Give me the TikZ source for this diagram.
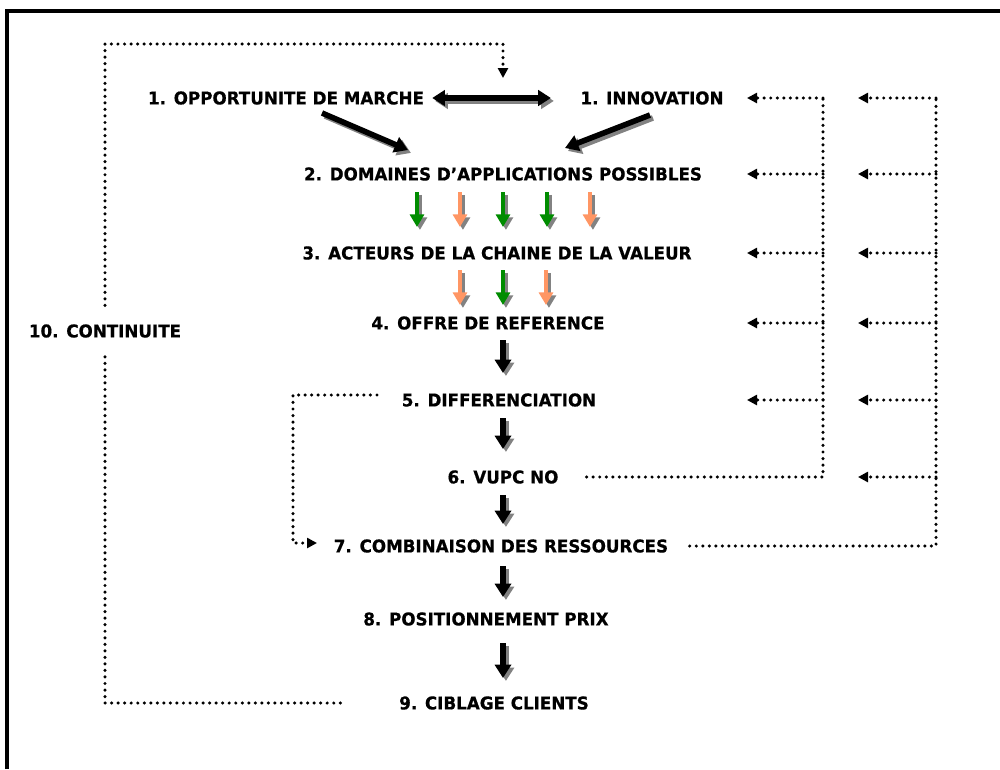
\documentclass[tikz,border=0pt]{standalone}
\usepackage{fontspec}
\setmainfont{DejaVu Sans}[FakeStretch=0.95, BoldFeatures={FakeBold=0.6}]
\usetikzlibrary{arrows.meta,calc}

\definecolor{stepgreen}{RGB}{0,140,0}
\definecolor{steporange}{RGB}{255,150,100}
\definecolor{shadowgray}{RGB}{130,130,130}

\tikzset{
  lbl/.style={font=\bfseries\fontsize{13.2}{15}\selectfont, inner sep=0pt, anchor=center},
  fat/.style={line width=4.2pt, -{Triangle[width=12pt,length=10pt]}},
  thin/.style={line width=3.3pt, -{Triangle[width=10.5pt,length=9.5pt]}},
  fatboth/.style={line width=4pt, {Triangle[width=11.5pt,length=9.5pt]}-{Triangle[width=11.5pt,length=9.5pt]}},
  dots/.style={line width=2.6pt, line cap=round, dash pattern=on 0pt off 4.9pt},
  dottip/.style={dots, -{Triangle[width=7.5pt,length=7.5pt]}},
  shade/.style={shadowgray, transform canvas={shift={(2.2pt,-2.2pt)}}},
  frame/.style={line width=2.3pt}
}

% arrow with a grey drop shadow: style, colour, start, end
\newcommand\shadedarrow[4]{%
  \draw[#1,shade] #3 -- #4;
  \draw[#1,#2] #3 -- #4;}

\begin{document}
\begin{tikzpicture}[x=0.75pt,y=-0.75pt]
\useasboundingbox (0,0) rectangle (1000,769);
\fill[white] (0,0) rectangle (1000,769);

% frame
\draw[frame] (7,769) -- (7,11) -- (1000,11);

% labels
\node[lbl] (n1a) at (286,98) {1. OPPORTUNITE DE MARCHE};
\node[lbl] (n1b) at (652,98) {1. INNOVATION};
\node[lbl] (n2)  at (503,174) {2. DOMAINES D’APPLICATIONS POSSIBLES};
\node[lbl] (n3)  at (497,253) {3. ACTEURS DE LA CHAINE DE LA VALEUR};
\node[lbl] (n4)  at (488,323) {4. OFFRE DE REFERENCE};
\node[lbl] (n5)  at (499,400) {5. DIFFERENCIATION};
\node[lbl] (n6)  at (503,477) {6. VUPC NO};
\node[lbl] (n7)  at (501,546) {7. COMBINAISON DES RESSOURCES};
\node[lbl] (n8)  at (486,619) {8. POSITIONNEMENT PRIX};
\node[lbl] (n9)  at (494,703) {9. CIBLAGE CLIENTS};
\node[lbl] (n10) at (105,331) {10. CONTINUITE};

% helper coordinates
\coordinate (mkA) at (322,113);  \coordinate (mkB) at (408,150);
\coordinate (inA) at (650,115);  \coordinate (inB) at (565,148);
\coordinate (top) at (503,44);   \coordinate (topin) at (503,78);
\coordinate (rail1) at (823,0);  \coordinate (tip1) at (747,0);
\coordinate (rail2) at (936,0);  \coordinate (tip2) at (858,0);
\coordinate (diffout) at (377,395);
\coordinate (combin) at (317,543);
\coordinate (leftrail) at (293,0);

% top thick arrows
\shadedarrow{fatboth}{black}{([xshift=6pt]n1a.east)}{([xshift=-22pt]n1b.west)}
\shadedarrow{fat}{black}{(mkA)}{(mkB)}
\shadedarrow{fat}{black}{(inA)}{(inB)}

% coloured arrows between 2 and 3
\foreach \x/\c in {417/stepgreen,460/steporange,503/stepgreen,547/stepgreen,590/steporange}
  \shadedarrow{thin}{\c}{(\x,192)}{(\x,227)};
% coloured arrows between 3 and 4
\foreach \x/\c in {460/steporange,503/stepgreen,546/steporange}
  \shadedarrow{thin}{\c}{(\x,270)}{(\x,305)};

% black arrows down the main column
\foreach \ya/\yb in {340/373,418/449,495/524,566/597,643/678}
  \shadedarrow{fat}{black}{(503,\ya)}{(503,\yb)};

% continuity loop
\draw[dots] ([xshift=-44pt]n9.west) -| ([yshift=-10pt]n10.south);
\draw[dottip] ([yshift=14pt]n10.north) |- (top) -- (topin);

% inner feedback rail from 6
\draw[dots] ([xshift=21pt]n6.east) -- (rail1 |- n6) -- (rail1 |- n1b);
\foreach \n in {n1b,n2,n3,n4,n5}
  \draw[dottip] (rail1 |- \n) -- (tip1 |- \n);

% outer feedback rail from 7
\draw[dots] ([xshift=16pt]n7.east) -- (rail2 |- n7) -- (rail2 |- n1b);
\foreach \n in {n1b,n2,n3,n4,n5,n6}
  \draw[dottip] (rail2 |- \n) -- (tip2 |- \n);

% differentiation to resources
\draw[dottip] (diffout) -- (leftrail |- diffout) -- (leftrail |- combin) -- (combin);
\end{tikzpicture}
\end{document}
